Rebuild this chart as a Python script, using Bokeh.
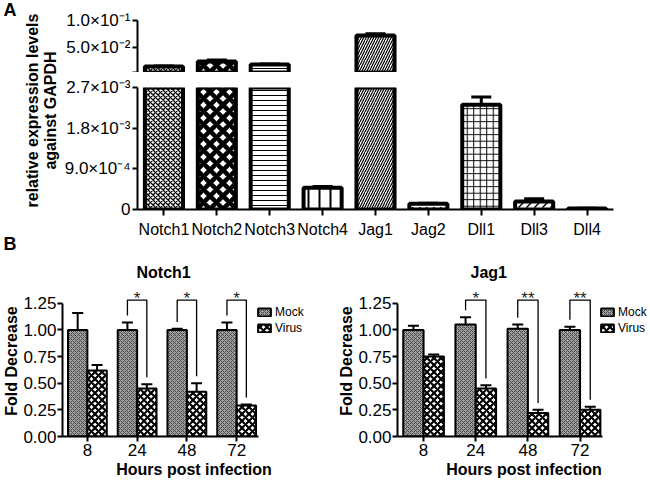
import math
from bokeh.plotting import figure
from bokeh.models import (ColumnDataSource, FactorRange, Range1d, FixedTicker, Whisker, TeeHead,
                          Legend, LegendItem, NumeralTickFormatter)
from bokeh.layouts import column, row
from bokeh.core.properties import value
from bokeh.embed import file_html
from bokeh.resources import INLINE

FONT = "Liberation Sans"

# ---------------- Panel A data ----------------
genes = ["Notch1", "Notch2", "Notch3", "Notch4", "Jag1", "Jag2", "Dll1", "Dll3", "Dll4"]
expr = [0.0140, 0.0233, 0.0175, 4.8e-4, 0.0720, 1.3e-4, 2.32e-3, 1.75e-4, 2.0e-5]
expr_err = [0.0010, 0.0030, 0.0012, 3.0e-5, 0.0030, 1.0e-5, 1.7e-4, 6.5e-5, 5.0e-6]
break_value = 2.7e-3
upper_max = 1.0e-1
lower_ticks = [0.0, 9.0e-4, 1.8e-3, 2.7e-3]
lower_tick_labels = ["0", "9.0×10⁻⁴", "1.8×10⁻³", "2.7×10⁻³"]
upper_ticks = [2.7e-3, 5.0e-2, 1.0e-1]
upper_tick_labels = ["", "5.0×10⁻²", "1.0×10⁻¹"]
ylabel_A = ["relative expression levels", "against GAPDH"]

# ---------------- Panel B data ----------------
hours = ["8", "24", "48", "72"]
notch1_mock = [1.00, 1.00, 1.00, 1.00]
notch1_mock_err = [0.16, 0.07, 0.01, 0.07]
notch1_virus = [0.62, 0.45, 0.42, 0.29]
notch1_virus_err = [0.05, 0.04, 0.08, 0.01]
notch1_sig = ["", "*", "*", "*"]
jag1_mock = [1.00, 1.05, 1.01, 1.00]
jag1_mock_err = [0.04, 0.07, 0.04, 0.03]
jag1_virus = [0.75, 0.45, 0.22, 0.25]
jag1_virus_err = [0.02, 0.03, 0.03, 0.03]
jag1_sig = ["", "*", "**", "**"]
yticks_B = [0.0, 0.25, 0.5, 0.75, 1.0, 1.25]

# ---------------- styles ----------------
A_hatch = ["diagonal_cross", "diagonal_cross", "horizontal_line", "vertical_line",
           "right_diagonal_line", "left_diagonal_dash", "cross", "right_diagonal_dash", "blank"]
A_hatch_scale = [5, 13, 5, 11, 5, 7, 6.5, 8, 10]
A_hatch_weight = [1.3, 4.5, 1, 2, 1.2, 1.5, 1, 1.5, 1]


def base_fig(**kw):
    p = figure(output_backend="svg", toolbar_location=None, **kw)
    p.grid.visible = False
    p.outline_line_color = None
    p.background_fill_color = "white"
    return p


def style_axis(ax, size, width=2):
    ax.axis_line_width = width
    ax.axis_line_color = "black"
    ax.major_tick_line_width = width
    ax.major_tick_line_color = "black"
    ax.major_tick_in = 0
    ax.major_tick_out = 5
    ax.minor_tick_line_color = None
    ax.major_label_text_font = FONT
    ax.major_label_text_font_size = size
    ax.major_label_text_color = "black"
    ax.major_label_standoff = 2
    ax.axis_label_text_font = FONT
    ax.axis_label_text_font_style = "bold"
    ax.axis_label_text_font_size = "16px"
    ax.axis_label_text_color = "black"
    ax.axis_label_standoff = 2


# ---------------- Panel A ----------------
colsA = dict(gene=genes, expr=expr, top=[v + e for v, e in zip(expr, expr_err)],
             hatch=A_hatch, hs=A_hatch_scale, hw=A_hatch_weight)
srcA = ColumnDataSource(colsA)
up_idx = [i for i, v in enumerate(expr) if v > break_value]
lo_idx = [i for i, v in enumerate(expr) if v <= break_value]
src_up = ColumnDataSource({k: [colsA[k][i] for i in up_idx] for k in colsA})
src_lo = ColumnDataSource({k: [colsA[k][i] for i in lo_idx] for k in colsA})

bar_kw = dict(x="gene", top="expr", bottom=0, width=0.72, fill_color="white",
              line_color="black", line_width=4, hatch_pattern="hatch", hatch_scale="hs",
              hatch_weight="hw", hatch_color="black")

A_W, A_H_UP, A_H_LO, LA_W, LA_H = 590, 72, 168, 60, 256
pu = base_fig(width=A_W, height=A_H_UP, x_range=FactorRange(*genes),
              y_range=Range1d(break_value, upper_max), x_axis_location=None,
              min_border_left=77, min_border_right=37, min_border_top=20, min_border_bottom=0)
pu.vbar(source=src_up, **bar_kw)
pu.add_layout(Whisker(source=src_up, base="gene", lower="expr", upper="top", line_width=3,
                      line_color="black", upper_head=TeeHead(size=20, line_width=3, line_color="black"),
                      lower_head=None))
style_axis(pu.yaxis[0], "17px")
pu.yaxis[0].ticker = FixedTicker(ticks=upper_ticks)
pu.yaxis[0].major_label_overrides = dict(zip(upper_ticks, upper_tick_labels))

pl = base_fig(width=A_W, height=A_H_LO, x_range=FactorRange(*genes),
              y_range=Range1d(0, break_value),
              min_border_left=77, min_border_right=37, min_border_top=15, min_border_bottom=30)
pl.vbar(source=srcA, **bar_kw)
pl.add_layout(Whisker(source=src_lo, base="gene", lower="expr", upper="top", line_width=3,
                      line_color="black", upper_head=TeeHead(size=20, line_width=3, line_color="black"),
                      lower_head=None))
style_axis(pl.yaxis[0], "17px")
style_axis(pl.xaxis[0], "16px")
pl.xaxis[0].major_tick_out = 6
pl.xaxis[0].major_label_standoff = 5
pl.yaxis[0].ticker = FixedTicker(ticks=lower_ticks)
pl.yaxis[0].major_label_overrides = dict(zip(lower_ticks, lower_tick_labels))

la = base_fig(width=LA_W, height=LA_H, x_range=Range1d(0, LA_W), y_range=Range1d(0, LA_H),
              x_axis_location=None, y_axis_location=None, min_border=0)
la.text(x=[32, 50], y=[LA_H - 110, LA_H - 110], text=ylabel_A, angle=math.pi / 2,
        text_align="center", text_baseline="middle", text_font=value(FONT),
        text_font_style="bold", text_font_size="16px", text_color="black")
la.text(x=[3, 3], y=[LA_H + 1, LA_H - 233], text=["A", "B"], text_align="left",
        text_baseline="top", text_font=value(FONT), text_font_style="bold",
        text_font_size="18px", text_color="black")

panelA = row(la, column(pu, pl))


# ---------------- Panel B ----------------
def make_B(title, mock, mock_err, virus, virus_err, sig, left, axis_px, frame_px, legend_x,
           title_offset):
    pos = list(range(1, len(hours) + 1))
    off, w = 0.195, 0.39
    x0, x_axis_end = 0.5, 4.43
    y_top_axis, y_end = 1.25, 1.417
    x_end = x0 + (x_axis_end - x0) * frame_px / axis_px
    mx = [x - off for x in pos]
    vx = [x + off for x in pos]
    width = left + frame_px
    p = base_fig(width=width, height=224, x_range=Range1d(x0, x_end), y_range=Range1d(0, y_end),
                 min_border_left=left, min_border_right=0, min_border_top=27,
                 min_border_bottom=44)
    ms = ColumnDataSource(dict(x=mx, y=mock, top=[a + b for a, b in zip(mock, mock_err)]))
    vs = ColumnDataSource(dict(x=vx, y=virus, top=[a + b for a, b in zip(virus, virus_err)]))
    rm = p.vbar(x="x", top="y", bottom=0, width=w, source=ms, fill_color="#a0a0a0",
                line_color="black", line_width=2, hatch_pattern="diagonal_cross", hatch_scale=4,
                hatch_weight=1, hatch_color="#4a4a4a")
    rv = p.vbar(x="x", top="y", bottom=0, width=w, source=vs, fill_color="white",
                line_color="black", line_width=2, hatch_pattern="diagonal_cross", hatch_scale=7,
                hatch_weight=2.2, hatch_color="black")
    for s in (ms, vs):
        p.add_layout(Whisker(source=s, base="x", lower="y", upper="top", line_width=2,
                             line_color="black",
                             upper_head=TeeHead(size=11, line_width=2, line_color="black"),
                             lower_head=None))
    gap, btop = 0.065, 1.28
    bx, by, sx, sy, st = [], [], [], [], []
    for i, s in enumerate(sig):
        if not s:
            continue
        bx.append([mx[i], mx[i], vx[i], vx[i]])
        by.append([mock[i] + mock_err[i] + gap, btop, btop, virus[i] + virus_err[i] + gap])
        sx.append((mx[i] + vx[i]) / 2)
        sy.append(btop)
        st.append(s)
    p.multi_line(xs=bx, ys=by, line_color="black", line_width=1.3)
    p.text(x=sx, y=sy, text=st, text_align="center", text_baseline="alphabetic", y_offset=-2,
           text_font=value(FONT), text_font_size="17px", text_color="#222222")

    style_axis(p.xaxis[0], "17px", width=2)
    style_axis(p.yaxis[0], "17px", width=2)
    p.yaxis[0].major_label_standoff = 1
    p.yaxis[0].axis_label_standoff = 0
    p.xaxis[0].ticker = FixedTicker(ticks=pos)
    p.xaxis[0].major_label_overrides = dict(zip(pos, hours))
    p.xaxis[0].axis_label = "Hours post infection"
    p.xaxis[0].bounds = (x0, x_axis_end)
    p.yaxis[0].ticker = FixedTicker(ticks=yticks_B)
    p.yaxis[0].formatter = NumeralTickFormatter(format="0.00")
    p.yaxis[0].bounds = (0, y_top_axis)
    p.yaxis[0].axis_label = "Fold Decrease"

    p.title.text = title
    p.title.align = "left"
    p.title.offset = title_offset
    p.title.text_font = FONT
    p.title.text_font_style = "bold"
    p.title.text_font_size = "16px"
    p.title.text_color = "black"

    leg = Legend(items=[LegendItem(label="Mock", renderers=[rm]),
                        LegendItem(label="Virus", renderers=[rv])],
                 location=(legend_x, 101), margin=0, padding=2, border_line_color=None,
                 background_fill_alpha=0, label_text_font=FONT, label_text_font_size="12px",
                 label_text_color="black",
                 glyph_width=16, glyph_height=10, label_height=14, spacing=2, label_standoff=3)
    p.add_layout(leg)
    return p


b1 = make_B("Notch1", notch1_mock, notch1_mock_err, notch1_virus, notch1_virus_err, notch1_sig,
            left=56, axis_px=200, frame_px=269, legend_x=194, title_offset=74)
b2 = make_B("Jag1", jag1_mock, jag1_mock_err, jag1_virus, jag1_virus_err, jag1_sig,
            left=72, axis_px=205, frame_px=253, legend_x=202, title_offset=73)

layout = column(panelA, row(b1, b2))

with open("out.html", "w") as f:
    f.write(file_html(layout, INLINE))
